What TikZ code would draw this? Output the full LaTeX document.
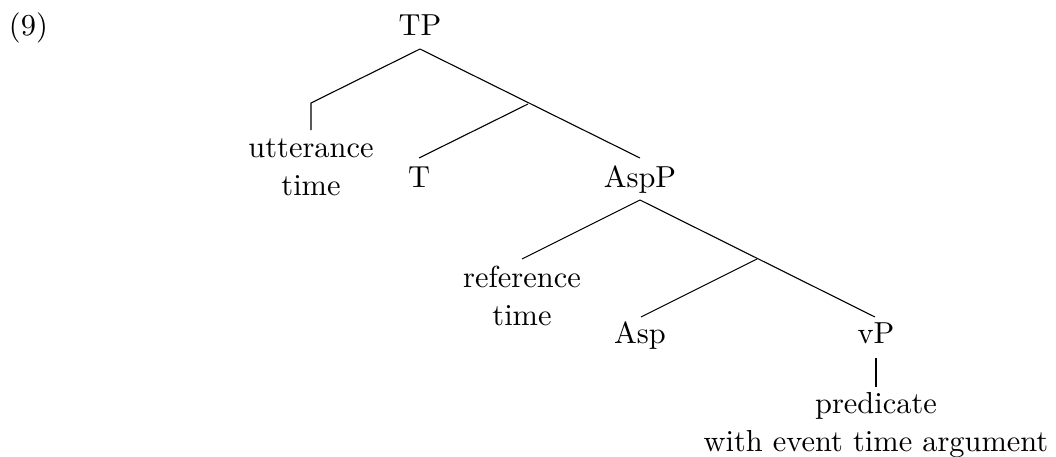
\documentclass[tikz,border=0pt]{standalone}
\newcommand{\bigtxt}[1]{\scalebox{1.52}{\fontsize{10}{12.5}\selectfont\begin{tabular}[b]{@{}c@{}}#1\end{tabular}}}
\begin{document}
\begin{tikzpicture}[x=0.5pt,y=-0.5pt,
  lbl/.style={anchor=base,inner sep=0pt,outer sep=0pt},
  edge/.style={line width=0.55pt}]
\useasboundingbox (0,0) rectangle (1056,456);
\node[lbl,anchor=base west] (ex) at (9,35) {\bigtxt{(9)}};
\node[lbl] (TP) at (420,35) {\bigtxt{TP}};
\node[lbl] (ut) at (311,195) {\bigtxt{utterance\\time}};
\node[lbl] (T) at (419,187) {\bigtxt{T}};
\node[lbl] (AspP) at (640,187) {\bigtxt{AspP}};
\node[lbl] (rt) at (522,325) {\bigtxt{reference\\time}};
\node[lbl] (Asp) at (640,343) {\bigtxt{Asp}};
\node[lbl] (vP) at (876,343) {\bigtxt{vP}};
\node[lbl] (pred) at (876,451) {\bigtxt{predicate\\with event time argument}};
% attachment points
\coordinate (tpB) at (420,49);
\coordinate (utK) at (311,103);
\coordinate (utT) at (311,130);
\coordinate (tJ) at (528,104);
\coordinate (tT) at (419,158);
\coordinate (aspPT) at (640,158);
\coordinate (aspPB) at (640,200);
\coordinate (rtT) at (522,259);
\coordinate (aJ) at (757,259);
\coordinate (aspT) at (641,317);
\coordinate (vPT) at (875,317);
\coordinate (vPB) at (876,358);
\coordinate (predT) at (876,387);
\draw[edge] (tpB) -- (utK) -- (utT);
\draw[edge] (tpB) -- (aspPT);
\draw[edge] (tJ) -- (tT);
\draw[edge] (aspPB) -- (rtT);
\draw[edge] (aspPB) -- (vPT);
\draw[edge] (aJ) -- (aspT);
\draw[edge] (vPB) -- (predT);
\end{tikzpicture}
\end{document}
